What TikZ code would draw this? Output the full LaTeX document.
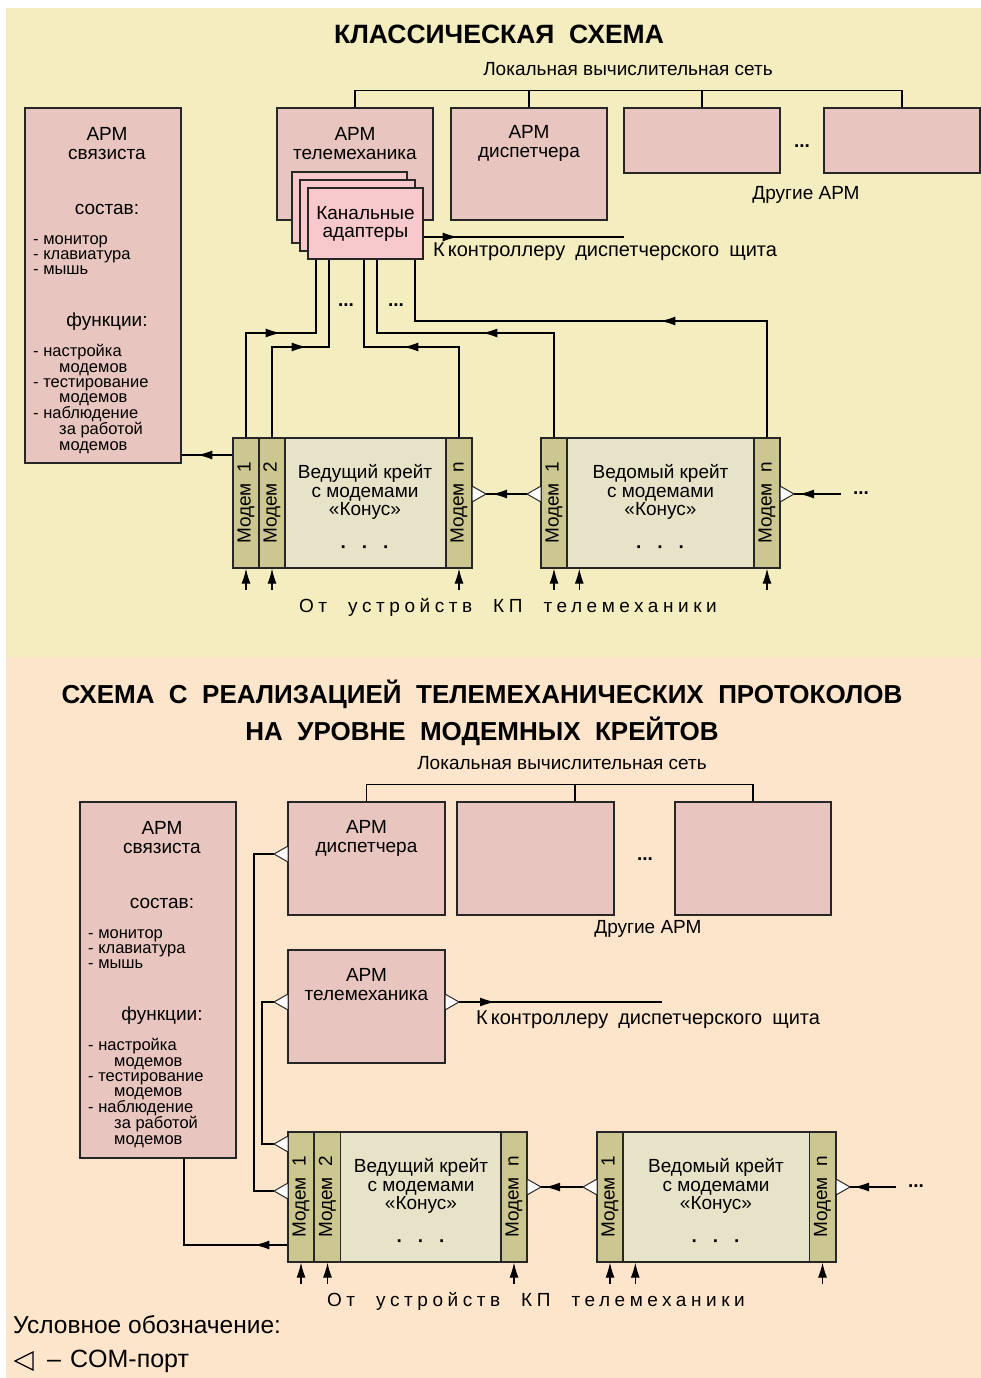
\documentclass[tikz,border=0pt]{standalone}
\usepackage{fontspec}
\setmainfont{Liberation Sans}
\usetikzlibrary{arrows.meta,decorations.markings}
\definecolor{topbg}{HTML}{F4EDC0}
\definecolor{botbg}{HTML}{FDE5CB}
\definecolor{armfill}{HTML}{E8C5BE}
\definecolor{adfill}{HTML}{F8C9CC}
\definecolor{cratefill}{HTML}{E6E3C8}
\definecolor{modemfill}{HTML}{CCC690}
\tikzset{armbox/.style={draw=black!85,line width=1.4pt,fill=armfill,inner sep=0pt,minimum width=156pt},
	 adbox/.style={draw=black!85,line width=1.4pt,fill=adfill,inner sep=0pt,minimum width=115pt,
	   minimum height=71pt,align=center,font=\fontsize{19}{18}\selectfont},
	 cratebox/.style={draw=black!85,line width=1.4pt,fill=cratefill,inner sep=0pt,
	   minimum width=239pt,minimum height=130pt},
	 modem/.style={draw=black!85,line width=1.2pt,fill=modemfill,inner sep=0pt,
	   minimum width=26pt,minimum height=130pt,font=\fontsize{19}{19}\selectfont},
	 wire/.style={line width=1.2pt},
	 port/.style={draw=black!85,fill=white,line width=1pt},
	 midarr/.style={postaction={decorate,decoration={markings,
	   mark=at position #1 with {\arrow{Latex[length=15pt,width=9pt]}}}}},
	 inarr/.style={wire,-{Latex[length=15pt,width=9pt]}},
	 lbl/.style={inner sep=0pt,align=center,font=\fontsize{19}{19}\selectfont},
	 lst/.style={inner sep=0pt,align=left,anchor=west,font=\fontsize{16.5}{15.4}\selectfont},
	 ttl/.style={inner sep=0pt,align=center,font=\bfseries\fontsize{26.5}{37}\selectfont},
	 ctl/.style={inner sep=0pt,anchor=west,font=\fontsize{20}{20}\selectfont},
	 spaced/.style={inner sep=0pt,font=\fontsize{19}{19}\selectfont\addfontfeature{LetterSpace=24}}
	 }

\begin{document}
\begin{tikzpicture}[x=1pt,y=-1pt] % two schemes
	\useasboundingbox (0,0) rectangle (981,1378);
	\fill[topbg] (6,8) rectangle (981,657);
	\fill[botbg] (6,657) rectangle (981,1378);

	% classic scheme
	\node[ttl] (ttl1) at (499,34) {КЛАССИЧЕСКАЯ\ \ СХЕМА};
	\node[lbl] (lan1) at (628,69) {Локальная вычислительная сеть};
	\node[armbox,minimum height=355pt] (svz) at (103,285.5) {};
	\node[armbox,minimum height=112pt] (tm) at (355,164) {};
	\node[armbox,minimum height=112pt] (disp) at (529,164) {};
	\node[armbox,minimum height=65pt] (o1) at (702,140.5) {};
	\node[armbox,minimum height=65pt] (o2) at (902,140.5) {};
	\draw[wire] (tm.north) -- ++(0,-17) -| (o2.north);
	\draw[wire] (disp.north) -- ++(0,-17);
	\draw[wire] (o1.north) -- ++(0,-17);
	\node[lbl] (svzt) at (107,143.5) {АРМ\\связиста};
	\node[lbl] (sos1) at (107,209) {состав:};
	\node[lst] (sosl1) at (33,255) {- монитор\\- клавиатура\\- мышь};
	\node[lbl] (fun1) at (107,322) {функции:};
	\node[lst] (funl1) at (33,399) {- настройка\\\hspace{26pt}модемов\\- тестирование\\\hspace{26pt}модемов\\- наблюдение\\\hspace{26pt}за работой\\\hspace{26pt}модемов};
	\node[lbl] (tmt) at (355,143.5) {АРМ\\телемеханика};
	\node[lbl] (dispt) at (529,143.5) {АРМ\\диспетчера};
	\node[lbl] (dots1) at (802,146) {\textbf{...}};
	\node[lbl] (oth1) at (806,195) {Другие АРМ};

	\node[adbox] (ad1) at (349.5,207.5) {};
	\node[adbox] (ad2) at (357.5,215.5) {};
	\node[adbox] (ad3) at (365.5,223.5) {Канальные\\адаптеры};
	\draw[wire,midarr=34pt] ([yshift=-13.5pt]ad3.east) -- ++(200,0) coordinate (ctl1);
	\node[ctl] (ctlt1) at (433,252) {К\hspace{3pt}контроллеру\hspace{10pt}диспетчерского\hspace{10pt}щита};

	\node[cratebox] (cra) at (352.5,503) {};
	\node[modem] (m1a) at (246,503) {\rotatebox{90}{Модем\hspace{0.55em}1}};
	\node[modem] (m2a) at (272,503) {\rotatebox{90}{Модем\hspace{0.55em}2}};
	\node[modem] (mna) at (459,503) {\rotatebox{90}{Модем\hspace{0.55em}n}};
	\node[lbl,font=\fontsize{19}{18.5}\selectfont] (crat) at (365,492) {Ведущий крейт\\с модемами\\«Конус»};
	\node[lbl] (crad) at (365,550) {\textbf{·\hspace{15pt}·\hspace{15pt}·}};
	\node[cratebox] (crb) at (660.5,503) {};
	\node[modem] (m1b) at (554,503) {\rotatebox{90}{Модем\hspace{0.55em}1}};
	\node[modem] (mnb) at (767,503) {\rotatebox{90}{Модем\hspace{0.55em}n}};
	\node[lbl,font=\fontsize{19}{18.5}\selectfont] (crbt) at (660.5,492) {Ведомый крейт\\с модемами\\«Конус»};
	\node[lbl] (crbd) at (660.5,550) {\textbf{·\hspace{15pt}·\hspace{15pt}·}};

	\draw[wire,midarr=139pt] (m1a.north) |- (316,333) -- (ad3.south -| 316,0);
	\draw[wire,midarr=125pt] (m2a.north) |- (329,347) -- (ad3.south -| 329,0);
	\draw[wire,midarr=146pt] (mna.north) |- (364,347) -- (ad3.south -| 364,0);
	\draw[wire,midarr=176pt] (m1b.north) |- (377,333) -- (ad3.south -| 377,0);
	\draw[wire,midarr=223pt] (mnb.north) |- (415,321) -- (ad3.south -| 415,0);
	\node[lbl] (dots2) at (346,305) {\textbf{...}};
	\node[lbl] (dots3) at (396,305) {\textbf{...}};
	\draw[wire,midarr=35pt] (m1a.west |- 0,455) -- (svz.east |- 0,455);

	\draw[port] (472,486) -- (486,494) -- (472,502) -- cycle;
	\draw[port] (541,486) -- (527,494) -- (541,502) -- cycle;
	\draw[port] (780,486) -- (794,494) -- (780,502) -- cycle;
	\coordinate (pna) at (486,494);
	\coordinate (p1b) at (527,494);
	\coordinate (pnb) at (794,494);
	\coordinate (nxt1) at (841,494);
	\draw[wire,midarr=35pt] (p1b) -- (pna);
	\draw[wire,midarr=42pt] (nxt1) -- (pnb);
	\node[lbl] (dots4) at (861,493) {\textbf{...}};

	\draw[inarr] (m1a.south) ++(0,21) -- (m1a.south);
	\draw[inarr] (m2a.south) ++(0,21) -- (m2a.south);
	\draw[inarr] (mna.south) ++(0,21) -- (mna.south);
	\draw[inarr] (m1b.south) ++(0,21) -- (m1b.south);
	\draw[inarr] ([xshift=39pt]crb.south west) ++(0,21) -- ([xshift=39pt]crb.south west);
	\draw[inarr] (mnb.south) ++(0,21) -- (mnb.south);
	\node[spaced] (kp1) at (508,607) {От\hspace{21pt}устройств\hspace{21pt}КП\hspace{21pt}телемеханики};

	% scheme with protocols in the crates
	\node[ttl,font=\bfseries\fontsize{26}{37}\selectfont] (ttl2) at (482,712.5) {СХЕМА\ \ С\ \ РЕАЛИЗАЦИЕЙ\ \ ТЕЛЕМЕХАНИЧЕСКИХ\ \ ПРОТОКОЛОВ\\НА\ \ УРОВНЕ\ \ МОДЕМНЫХ\ \ КРЕЙТОВ};
	\node[lbl] (lan2) at (562,763) {Локальная вычислительная сеть};
	\node[armbox,minimum height=356pt] (svz2) at (158,980) {};
	\node[armbox,minimum width=157pt,minimum height=113pt] (disp2) at (366.5,858.5) {};
	\node[armbox,minimum width=157pt,minimum height=113pt] (o3) at (535.5,858.5) {};
	\node[armbox,minimum height=113pt] (o4) at (753,858.5) {};
	\node[armbox,minimum width=157pt,minimum height=113pt] (tm2) at (366.5,1006.5) {};
	\draw[wire] (disp2.north) -- ++(0,-17) -| (o4.north);
	\draw[wire] (o3.north -| 575,0) -- ++(0,-17);
	\node[lbl] (svzt2) at (162,837.5) {АРМ\\связиста};
	\node[lbl] (sos2) at (162,903) {состав:};
	\node[lst] (sosl2) at (88,949) {- монитор\\- клавиатура\\- мышь};
	\node[lbl] (fun2) at (162,1016) {функции:};
	\node[lst] (funl2) at (88,1093) {- настройка\\\hspace{26pt}модемов\\- тестирование\\\hspace{26pt}модемов\\- наблюдение\\\hspace{26pt}за работой\\\hspace{26pt}модемов};
	\node[lbl] (dispt2) at (366.5,838.5) {АРМ\\диспетчера};
	\node[lbl] (tmt2) at (366.5,985) {АРМ\\телемеханика};
	\node[lbl] (dots5) at (645,859) {\textbf{...}};
	\node[lbl] (oth2) at (648,929) {Другие АРМ};

	\node[cratebox] (crc) at (407.5,1197) {};
	\node[modem] (m1c) at (301,1197) {\rotatebox{90}{Модем\hspace{0.55em}1}};
	\node[modem] (m2c) at (327.5,1197) {\rotatebox{90}{Модем\hspace{0.55em}2}};
	\node[modem] (mnc) at (514,1197) {\rotatebox{90}{Модем\hspace{0.55em}n}};
	\node[lbl,font=\fontsize{19}{18.5}\selectfont] (crct) at (421,1186) {Ведущий крейт\\с модемами\\«Конус»};
	\node[lbl] (crcd) at (421,1244) {\textbf{·\hspace{15pt}·\hspace{15pt}·}};
	\node[cratebox] (crd) at (716.5,1197) {};
	\node[modem] (m1d) at (610,1197) {\rotatebox{90}{Модем\hspace{0.55em}1}};
	\node[modem] (mnd) at (822.5,1197) {\rotatebox{90}{Модем\hspace{0.55em}n}};
	\node[lbl,font=\fontsize{19}{18.5}\selectfont] (crdt) at (716,1186) {Ведомый крейт\\с модемами\\«Конус»};
	\node[lbl] (crdd) at (716,1244) {\textbf{·\hspace{15pt}·\hspace{15pt}·}};

	\draw[port] (288,846) -- (274,854) -- (288,862) -- cycle;
	\draw[port] (288,994) -- (274,1002) -- (288,1010) -- cycle;
	\draw[port] (445,994) -- (459,1002) -- (445,1010) -- cycle;
	\draw[port] (288,1136) -- (274,1144) -- (288,1152) -- cycle;
	\draw[port] (288,1183) -- (274,1191) -- (288,1199) -- cycle;
	\draw[port] (527,1179) -- (541,1187) -- (527,1195) -- cycle;
	\draw[port] (597,1179) -- (583,1187) -- (597,1195) -- cycle;
	\draw[port] (836,1179) -- (850,1187) -- (836,1195) -- cycle;
	\coordinate (pd2) at (274,854);
	\coordinate (pt2) at (274,1002);
	\coordinate (pt2r) at (459,1002);
	\coordinate (p1c) at (274,1144);
	\coordinate (p1cc) at (274,1191);
	\coordinate (pnc) at (541,1187);
	\coordinate (p1d) at (583,1187);
	\coordinate (pnd) at (850,1187);
	\coordinate (nxt2) at (896,1187);
	\draw[wire] (pd2) -| (254,1191) -- (p1cc);
	\draw[wire] (pt2) -| (262,1144) -- (p1c);
	\draw[wire,midarr=36pt] (pt2r) -- ++(203,0) coordinate (ctl2);
	\node[ctl] (ctlt2) at (476,1020) {К\hspace{3pt}контроллеру\hspace{10pt}диспетчерского\hspace{10pt}щита};
	\draw[wire,midarr=33pt] (m1c.west |- 0,1245) -| (svz2.south -| 184,0);
	\draw[wire,midarr=38pt] (p1d) -- (pnc);
	\draw[wire,midarr=42pt] (nxt2) -- (pnd);
	\node[lbl] (dots6) at (916,1186) {\textbf{...}};

	\draw[inarr] (m1c.south) ++(0,21) -- (m1c.south);
	\draw[inarr] (m2c.south) ++(0,21) -- (m2c.south);
	\draw[inarr] (mnc.south) ++(0,21) -- (mnc.south);
	\draw[inarr] (m1d.south) ++(0,21) -- (m1d.south);
	\draw[inarr] ([xshift=39pt]crd.south west) ++(0,21) -- ([xshift=39pt]crd.south west);
	\draw[inarr] (mnd.south) ++(0,21) -- (mnd.south);
	\node[spaced] (kp2) at (536,1301) {От\hspace{21pt}устройств\hspace{21pt}КП\hspace{21pt}телемеханики};

	% legend
	\node[lbl,anchor=west,font=\fontsize{24.5}{24}\selectfont] (leg) at (13,1325) {Условное обозначение:};
	\draw[line width=1.2pt] (33,1352) -- (15,1361) -- (33,1370) -- cycle;
	\node[lbl,anchor=west,font=\fontsize{25}{24}\selectfont] (legt) at (47,1361) {–\hspace{9pt}COM-порт};
\end{tikzpicture}
\end{document}
